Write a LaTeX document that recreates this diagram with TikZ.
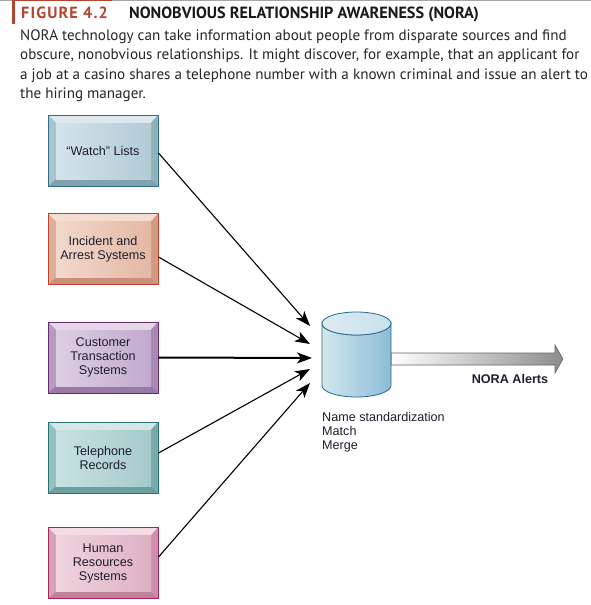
\documentclass[tikz,border=0pt]{standalone}
\usepackage{fontspec}
\setmainfont{Liberation Sans}
\newfontfamily\bodyfont{PT Sans}
\newfontfamily\figfont[LetterSpace=7]{PT Sans}
\usetikzlibrary{arrows.meta,calc}
\definecolor{figred}{HTML}{B8432F}
% box palettes: bd border, tp top, lf left, rt right, bt bottom, ia/ib inner
\definecolor{abd}{HTML}{2F6F84}\definecolor{atp}{HTML}{DDE9EE}\definecolor{alf}{HTML}{A9C4CF}\definecolor{art}{HTML}{8FB0BD}\definecolor{abt}{HTML}{7FA3B2}\definecolor{aia}{HTML}{D3E4EA}\definecolor{aib}{HTML}{B2CBD6}
\definecolor{bbd}{HTML}{C0402A}\definecolor{btp}{HTML}{F4DDD2}\definecolor{blf}{HTML}{DDAE98}\definecolor{brt}{HTML}{D29A82}\definecolor{bbt}{HTML}{C8907A}\definecolor{bia}{HTML}{F2D8CC}\definecolor{bib}{HTML}{E4B8A4}
\definecolor{cbd}{HTML}{6A2A70}\definecolor{ctp}{HTML}{E4D8E8}\definecolor{clf}{HTML}{B89CC0}\definecolor{crt}{HTML}{A888B4}\definecolor{cbt}{HTML}{9A78A8}\definecolor{cia}{HTML}{DDCFE2}\definecolor{cib}{HTML}{C2AACF}
\definecolor{dbd}{HTML}{2A7070}\definecolor{dtp}{HTML}{D4E8E8}\definecolor{dlf}{HTML}{94C0C0}\definecolor{drt}{HTML}{78ACAC}\definecolor{dbt}{HTML}{6AA0A0}\definecolor{dia}{HTML}{C8E2E2}\definecolor{dib}{HTML}{A6CACA}
\definecolor{ebd}{HTML}{A02860}\definecolor{etp}{HTML}{F4DCE4}\definecolor{elf}{HTML}{D8A0B8}\definecolor{ert}{HTML}{CC90A8}\definecolor{ebt}{HTML}{C08098}\definecolor{eia}{HTML}{F0D4DE}\definecolor{eib}{HTML}{DEB0C4}
\definecolor{cylbd}{HTML}{2A6A8C}\definecolor{cyla}{HTML}{D2E7F0}\definecolor{cylb}{HTML}{8CBCD6}\definecolor{cyltop}{HTML}{DCECF3}
\definecolor{boxtxt}{HTML}{1E1E2E}
\tikzset{
  boxtext/.style={rectangle, line width=1pt, minimum width=110pt, minimum height=71pt, inner sep=0pt,
    align=center, font=\fontsize{12.6}{14}\selectfont, text=boxtxt},
  conn/.style={line width=1.1pt, -{Stealth[length=15pt,width=11pt,inset=4pt]}},
  thickconn/.style={line width=2pt, -{Stealth[length=15pt,width=11pt,inset=4pt]}},
  bodytext/.style={anchor=base west, inner sep=0pt, font=\bodyfont\fontsize{15.1}{17}\selectfont, text=black!85},
}
% \bbox{name}{x1}{y1}{palette}{text}
\newcommand\bbox[5]{%
  \fill[#4bt] (#2,#3) rectangle ({#2+110},{#3+71});
  \fill[#4tp] (#2,#3) -- ({#2+110},#3) -- ({#2+103},{#3+8}) -- ({#2+8},{#3+8}) -- cycle;
  \fill[#4lf] (#2,#3) -- ({#2+8},{#3+8}) -- ({#2+8},{#3+64}) -- (#2,{#3+71}) -- cycle;
  \fill[#4rt] ({#2+110},#3) -- ({#2+110},{#3+71}) -- ({#2+103},{#3+64}) -- ({#2+103},{#3+8}) -- cycle;
  \shade[left color=#4ia, right color=#4ib] ({#2+8},{#3+8}) rectangle ({#2+103},{#3+64});
  \node[boxtext, draw=#4bd] (#1) at ({#2+55},{#3+35.5}) {#5};
}
\begin{document}
\begin{tikzpicture}[x=1pt,y=-1pt]
\useasboundingbox (0,0) rectangle (591,605);
\fill[white] (0,0) rectangle (591,605);
% top rule and red bar
\fill[black!35] (0,0) rectangle (591,1.2);
\fill[figred] (12,0) rectangle (112,1.4);
\fill[figred] (12,0) rectangle (15,24);
% title
\node[anchor=base west, inner sep=0pt, font=\figfont\bfseries\fontsize{16.2}{18}\selectfont, text=figred] (fig) at (21,19) {FIGURE 4.2};
\node[anchor=base west, inner sep=0pt, font=\bodyfont\bfseries\fontsize{16.2}{18}\selectfont, text=black!90] (ttl) at (129,19) {NONOBVIOUS RELATIONSHIP AWARENESS (NORA)};
% body
\node[bodytext] (l1) at (20,40) {NORA technology can take information about people from disparate sources and find};
\node[bodytext] (l2) at (20,59) {obscure, nonobvious relationships. It might discover, for example, that an applicant for};
\node[bodytext] (l3) at (20,79) {a job at a casino shares a telephone number with a known criminal and issue an alert to};
\node[bodytext] (l4) at (20,98) {the hiring manager.};
% boxes
\bbox{b1}{48}{115}{a}{``Watch'' Lists}
\bbox{b2}{48}{213.5}{b}{Incident and\\Arrest Systems}
\bbox{b3}{48}{322}{c}{Customer\\Transaction\\Systems}
\bbox{b4}{48}{422}{d}{Telephone\\Records}
\bbox{b5}{48}{527.5}{e}{Human\\Resources\\Systems}
% cylinder
\shade[left color=cyla, right color=cylb, draw=cylbd, line width=0.8pt]
  (322,323.5) -- (322,385.5) arc[start angle=180, end angle=0, x radius=34.5, y radius=11.5]
  -- (391,323.5) arc[start angle=0, end angle=180, x radius=34.5, y radius=11.5] -- cycle;
\shade[left color=cyltop, right color=cyla!85!cylb, draw=cylbd, line width=0.8pt]
  (356.5,323.5) ellipse[x radius=34.5, y radius=11.5];
\node[minimum width=69pt, minimum height=85pt, inner sep=0pt] (db) at (356.5,355) {};
% tips
\coordinate (t1) at (310,326);
\coordinate (t2) at (310,344);
\coordinate (t3) at (312,358);
\coordinate (t4) at (310,369);
\coordinate (t5) at (310,383);
\draw[conn] ($(b1.east)+(0,2.5)$) -- (t1);
\draw[conn] ($(b2.east)+(0,8)$) -- (t2);
\draw[thickconn] (b3.east) -- (t3);
\draw[conn] ($(b4.east)+(0,-4.5)$) -- (t4);
\draw[conn] ($(b5.east)+(0,-6)$) -- (t5);
% output arrow
\shade[left color=white, right color=black!45, draw=black!60, line width=0.6pt]
  (db.east |- 0,353) -- (555,353) -- (555,345) -- (563,359) -- (555,373) -- (555,365) -- (db.east |- 0,365) -- cycle;
\node[font=\bfseries\fontsize{12.6}{14}\selectfont, text=boxtxt] (alerts) at (510,379) {NORA Alerts};
\node[anchor=north west, inner sep=0pt, align=left, font=\fontsize{12.6}{14}\selectfont, text=boxtxt] (proc) at (322,412) {Name standardization\\Match\\Merge};
\end{tikzpicture}
\end{document}
